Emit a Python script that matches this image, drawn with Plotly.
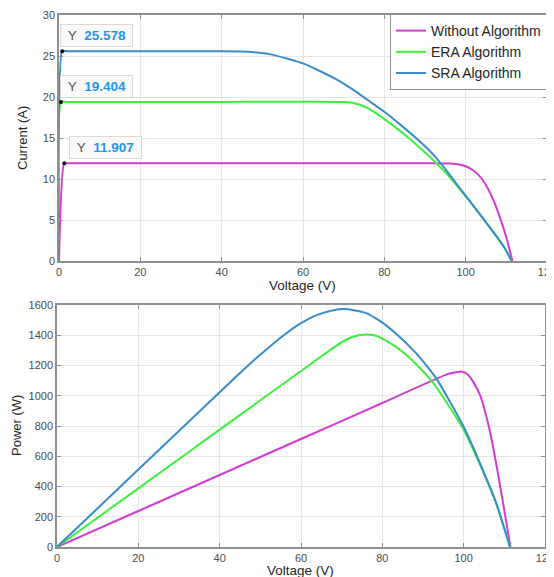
import plotly.graph_objects as go

# ---------- data ----------
# I-V curves (top)
v_without = [0, 1.3, 2.5, 40, 80, 96, 98, 100, 102, 104, 105.5, 107, 108.5, 110, 111.5]
i_without = [0, 11.907, 11.907, 11.907, 11.907, 11.9, 11.8, 11.55, 11.0, 10.0, 8.8, 7.2, 5.2, 2.9, 0]

v_era = [0, 0.5, 2.0, 40, 70, 72, 74, 76, 78, 80, 83, 86, 89, 92, 95, 98, 101, 104, 107, 109.5, 111.3]
i_era = [0, 19.404, 19.404, 19.404, 19.4, 19.3, 19.05, 18.6, 18.0, 17.3, 16.2, 15.0, 13.7, 12.3, 10.8, 9.1, 7.3, 5.4, 3.4, 1.65, 0]

v_sra = [0, 0.8, 2.0, 40, 45, 48, 52, 56, 60, 64, 68, 72, 76, 80, 84, 88, 92, 95, 98, 101, 104, 107, 109.5, 111.3]
i_sra = [0, 25.578, 25.578, 25.578, 25.55, 25.45, 25.2, 24.7, 24.1, 23.2, 22.2, 21.0, 19.6, 18.2, 16.6, 14.9, 13.0, 11.2, 9.25, 7.3, 5.35, 3.4, 1.65, 0]

# P-V curves (bottom)
pv_without = [0, 20, 40, 60, 80, 96, 98, 99.5, 101, 102.4, 104, 104.8, 106.5, 108.1, 109.7, 111.5]
p_without = [0, 238, 476, 714, 952, 1143, 1155, 1160, 1140, 1090, 1005, 940, 760, 535, 290, 0]

pv_era = [0, 20, 40, 60, 68, 70.5, 73, 76, 78, 80.2, 83, 86, 89, 92.5, 95.8, 100, 104, 108, 111.4]
p_era = [0, 388, 776, 1164, 1318, 1362, 1392, 1405, 1400, 1375, 1330, 1268, 1190, 1085, 955, 775, 545, 287, 0]

pv_sra = [0, 20, 40, 44, 48, 52, 56, 60, 64, 68, 70.4, 73, 76.2, 80.2, 84, 88, 91, 93.4, 95.8, 100, 104, 108, 111.4]
p_sra = [0, 512, 1023, 1125, 1225, 1318, 1405, 1480, 1535, 1565, 1573, 1566, 1545, 1480, 1395, 1290, 1195, 1110, 1000, 795, 555, 292, 0]

names = ["Without Algorithm", "ERA Algorithm", "SRA Algorithm"]
colors = ["#d43bd4", "#3cf03c", "#3a8ccc"]

tip_v = [0.8, 0.5, 1.3]
tip_i = [25.578, 19.404, 11.907]

x_ticks = [0, 20, 40, 60, 80, 100, 120]
i_ticks = [0, 5, 10, 15, 20, 25, 30]
p_ticks = [0, 200, 400, 600, 800, 1000, 1200, 1400, 1600]

x_title = "Voltage (V)"
i_title = "Current (A)"
p_title = "Power (W)"

# ---------- figure ----------
W, H = 554, 577
OFF = 8  # page body margin
fig = go.Figure()

top_sets = [(v_without, i_without), (v_era, i_era), (v_sra, i_sra)]
bot_sets = [(pv_without, p_without), (pv_era, p_era), (pv_sra, p_sra)]

for (vx, iy), n, c in zip(top_sets, names, colors):
    fig.add_trace(go.Scatter(x=vx, y=iy, mode="lines", name=n,
                             line=dict(color=c, width=2, shape="spline", smoothing=0.5),
                             xaxis="x", yaxis="y"))
for (vx, py), n, c in zip(bot_sets, names, colors):
    fig.add_trace(go.Scatter(x=vx, y=py, mode="lines", name=n, showlegend=False,
                             line=dict(color=c, width=2, shape="spline", smoothing=0.5),
                             xaxis="x2", yaxis="y2"))

# datatip markers
fig.add_trace(go.Scatter(x=tip_v, y=tip_i, mode="markers", showlegend=False,
                         marker=dict(color="black", size=4), xaxis="x", yaxis="y",
                         hoverinfo="skip"))

def px_x(p):
    return (p - OFF) / W

def px_y(p):
    return 1 - (p - OFF) / H

axis_common = dict(showgrid=True, gridcolor="#e6e6e6", gridwidth=1,
                   showline=True, linecolor="#8f8f8f", linewidth=1.5, mirror="ticks",
                   ticks="inside", ticklen=4, tickcolor="#8f8f8f",
                   tickfont=dict(family="Liberation Sans, Arial", size=11, color="#4d4d4d"),
                   zeroline=False, fixedrange=True, automargin=False)

fig.update_layout(
    width=W, height=H,
    margin=dict(l=0, r=0, t=0, b=0),
    paper_bgcolor="white", plot_bgcolor="white",
    font=dict(family="Liberation Sans, Arial", color="#262626"),
    xaxis=dict(domain=[px_x(59), px_x(547)], range=[0, 120], tickvals=x_ticks,
               anchor="y", **axis_common),
    yaxis=dict(domain=[px_y(261), px_y(15)], range=[0, 30], tickvals=i_ticks,
               anchor="x", **axis_common),
    xaxis2=dict(domain=[px_x(57), px_x(545)], range=[0, 120], tickvals=x_ticks,
                anchor="y2", **axis_common),
    yaxis2=dict(domain=[px_y(547), px_y(305)], range=[0, 1600], tickvals=p_ticks,
                anchor="x2", **axis_common),
    legend=dict(x=px_x(547), y=px_y(14), xanchor="right", yanchor="top",
                bgcolor="white", bordercolor="#8f8f8f", borderwidth=1,
                font=dict(family="Liberation Sans, Arial", size=14, color="#262626"),
                tracegroupgap=0, itemwidth=30),
    showlegend=True,
)

# axis titles placed as paper annotations
title_font = dict(family="Liberation Sans, Arial", size=13.5, color="#262626")
fig.add_annotation(x=px_x(302), y=px_y(286), xref="paper", yref="paper", text=x_title,
                   showarrow=False, xanchor="center", yanchor="middle", font=title_font)
fig.add_annotation(x=px_x(300), y=px_y(570), xref="paper", yref="paper", text=x_title,
                   showarrow=False, xanchor="center", yanchor="middle", font=title_font)
fig.add_annotation(x=px_x(22), y=px_y(138), xref="paper", yref="paper", text=i_title,
                   showarrow=False, xanchor="center", yanchor="middle", textangle=-90,
                   font=dict(title_font, size=13))
fig.add_annotation(x=px_x(16), y=px_y(426), xref="paper", yref="paper", text=p_title,
                   showarrow=False, xanchor="center", yanchor="middle", textangle=-90,
                   font=dict(title_font, size=13))

NB = "\u00a0"
tip_xshift = [-2, -1, 5]
for v, i, xs in zip(tip_v, tip_i, tip_xshift):
    fig.add_annotation(x=v, y=i, xref="x", yref="y", showarrow=False,
                       xanchor="left", yanchor="bottom", xshift=xs, yshift=4,
                       text=(NB + "<span style='color:#555555'>Y</span>" + NB + NB +
                             "<b><span style='color:#1e96f0'>%.3f</span></b>" % i + NB),
                       font=dict(family="Liberation Sans, Arial", size=13.5),
                       bgcolor="#fafafa", bordercolor="#d9d9d9", borderwidth=1, borderpad=3)

fig.write_html("out.html")
